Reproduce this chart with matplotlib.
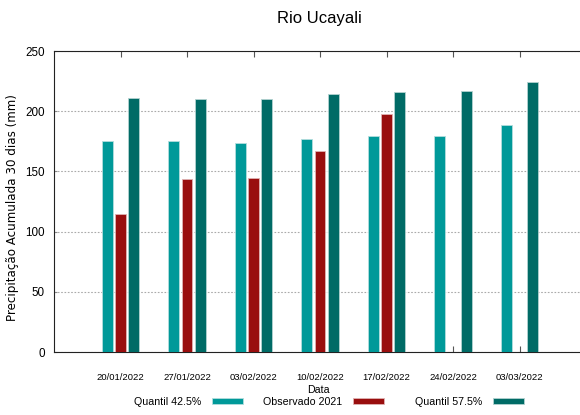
import numpy as np
import matplotlib
matplotlib.use("Agg")
import matplotlib.pyplot as plt
import matplotlib.transforms as mtransforms

datas = ['20/01/2022', '27/01/2022', '03/02/2022', '10/02/2022',
         '17/02/2022', '24/02/2022', '03/03/2022']
q425 = [175, 175, 173.5, 177, 179.5, 179.5, 188.5]
obs2021 = [115, 143.5, 144.5, 167, 198, np.nan, np.nan]
q575 = [211, 210, 210, 214.5, 216, 217, 224]

W, H = 580, 415
fig = plt.figure(figsize=(5.8, 4.15), dpi=100)
ax = fig.add_axes([54 / W, 63 / H, 532 / W, 301 / H])

x = np.arange(len(datas))
w = 0.165
off = 0.197
b1 = ax.bar(x - off, q425, w, color='#009999', edgecolor='#b3dede', linewidth=0.6, zorder=3)
b2 = ax.bar(x, obs2021, w, color='#990e0e', edgecolor='#e0b3b3', linewidth=0.6, zorder=3)
b3 = ax.bar(x + off, q575, w, color='#006b66', edgecolor='#b3d2d0', linewidth=0.6, zorder=3)

ax.set_xlim(-1, len(datas))
ax.set_ylim(0, 250)
ax.set_yticks(range(0, 251, 50))
ax.set_xticks(x)
ax.set_xticklabels(datas, fontfamily='Liberation Sans', fontsize=6.8)
# rótulos levemente deslocados para a direita, como na referência
shift = mtransforms.ScaledTranslation(5 / 100, 0, fig.dpi_scale_trans)
for t in ax.get_xticklabels():
    t.set_transform(t.get_transform() + shift)
ax.tick_params(axis='x', direction='in', length=4, pad=15, color='#555555',
               top=True, labeltop=False)
ax.tick_params(axis='y', direction='in', length=2, pad=6.5, color='#888888')
for t in ax.get_yticklabels():
    t.set_fontfamily('Liberation Sans')
    t.set_fontsize(8.4)
ax.yaxis.grid(True, linestyle=(0, (1.5, 1.5)), color='#aaaaaa', linewidth=0.8, zorder=0)
ax.spines['right'].set_visible(False)
for s in ['left', 'top', 'bottom']:
    ax.spines[s].set_color('#222222')

fig.text(13 / W, 1 - 207.5 / H, 'Precipitação Acumulada 30 dias (mm)', rotation=90,
         fontsize=8.6, ha='center', va='center')
fig.text(318 / W, 1 - 390 / H, 'Data', fontfamily='Liberation Sans', fontsize=7.7,
         ha='center', va='center')
fig.text(319 / W, 1 - 18.5 / H, 'Rio Ucayali', fontfamily='Liberation Sans',
         fontsize=12, ha='center', va='center')

handles = [b1, b2, b3]
labels = ['Quantil 42.5%', 'Observado 2021', 'Quantil 57.5%']
rights = [243, 384, 524]
for h, lab, r in zip(handles, labels, rights):
    fig.legend([h], [lab], loc='center right', bbox_to_anchor=(r / W, 1 - 402 / H),
               frameon=False, markerfirst=False, handlelength=2.9, handleheight=0.55,
               handletextpad=1.0, borderpad=0, borderaxespad=0,
               prop={'family': 'Liberation Sans', 'size': 7.7})

fig.savefig('out.png', dpi=100)
